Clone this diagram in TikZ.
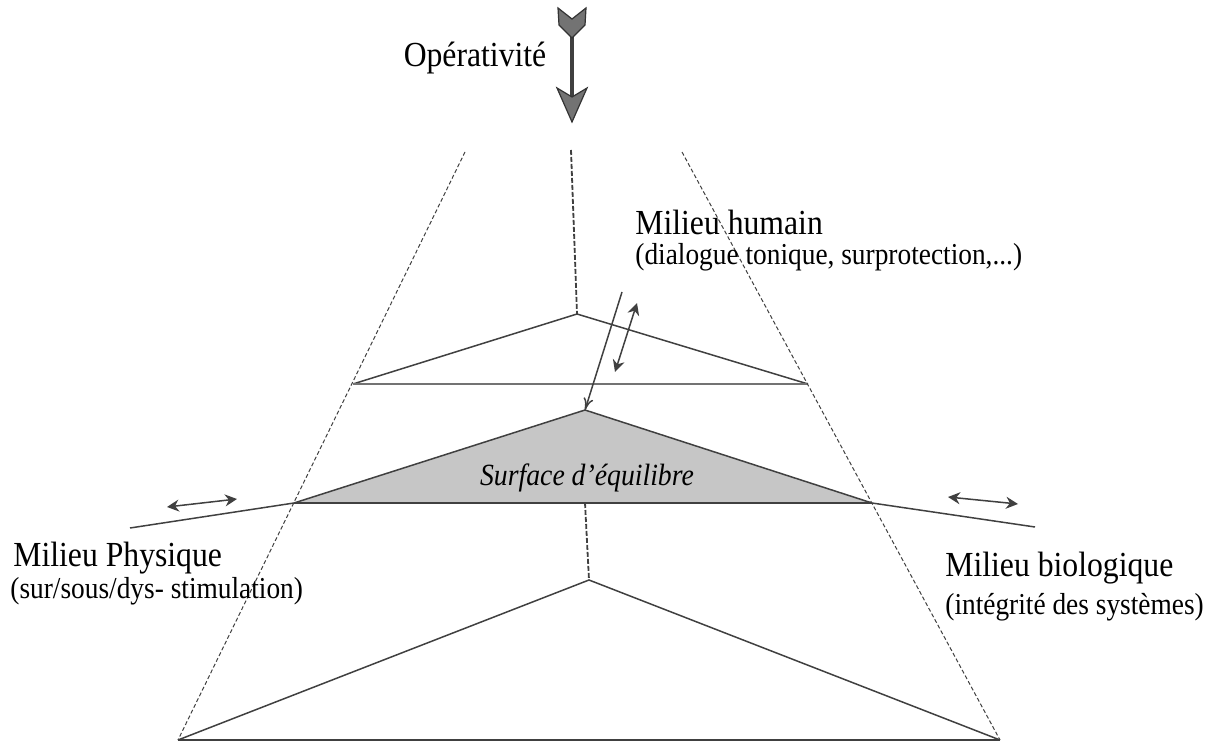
\documentclass[tikz,border=0pt]{standalone}
\usepackage{fontspec}
\setmainfont{Liberation Serif}[FakeStretch=0.9]
\usetikzlibrary{arrows.meta}
\begin{document}
\begin{tikzpicture}[x=0.5pt,y=-0.5pt,
  edge/.style={draw=black!75, line width=0.5pt, dash pattern=on 2pt off 1.2pt},
  axisline/.style={draw=black!75, line width=0.9pt, dash pattern=on 2.5pt off 1pt},
  layer/.style={draw=black!75, line width=0.75pt},
  lbl/.style={font=\fontsize{17.6}{20}\selectfont, anchor=west, inner sep=0pt},
  sublbl/.style={font=\fontsize{15.2}{18}\selectfont, anchor=west, inner sep=0pt},
  dbl/.style={draw=black!75, line width=0.75pt, {Stealth[length=6pt,width=6pt]}-{Stealth[length=6pt,width=6pt]}},
]
\useasboundingbox (0,0) rectangle (1209,743);
% pyramid points
\coordinate (TL) at (465,152); \coordinate (TR) at (682,152);
\coordinate (BL) at (178,740); \coordinate (BR) at (1000,740);
\coordinate (A1) at (577,314); \coordinate (L1) at (353,384); \coordinate (R1) at (808,384);
\coordinate (A2) at (585,410); \coordinate (L2) at (294,503); \coordinate (R2) at (872,503);
\coordinate (A3) at (589,580);
\coordinate (Ctop) at (571,150); \coordinate (C2) at (585,503);
\coordinate (PL) at (130,528); \coordinate (PR) at (1035,527);
% shaded surface
\fill[gray!45] (L2) -- (A2) -- (R2) -- cycle;
\draw[layer] (L2) -- (A2) -- (R2);
\draw[layer, line width=1pt] (L2) -- (R2);
\draw[layer] (PL) -- (L2);
\draw[layer] (R2) -- (PR);
% top layer
\draw[layer] (L1) -- (A1) -- (R1);
\draw[layer, draw=black!55, line width=1pt] (L1) -- (R1);
% bottom layer
\draw[layer] (BL) -- (A3) -- (BR);
\draw[layer, line width=1pt] (BL) -- (BR);
% pyramid edges and axis
\draw[edge] (TL) -- (BL);
\draw[edge] (TR) -- (BR);
\draw[axisline] (Ctop) -- (A1);
\draw[axisline] (C2) -- (A3);
% human milieu arrows
\coordinate (HS) at (622,292);
\draw[layer, -{To[length=6pt,width=5pt]}] (HS) -- (A2);
\coordinate (D1) at (637,303); \coordinate (D2) at (615,372);
\draw[dbl] (D2) -- (D1);
% side arrows
\coordinate (E1) at (167,507); \coordinate (E2) at (237,499);
\draw[dbl] (E1) -- (E2);
\coordinate (F1) at (948,497); \coordinate (F2) at (1018,504);
\draw[dbl] (F1) -- (F2);
% Operativite arrow
\coordinate (OT) at (572,36); \coordinate (OH) at (572,96);
\draw[line width=1.6pt, black!75] (OT) -- (OH);
\filldraw[fill=black!55, draw=black!80, line width=0.6pt]
  (558,8) -- (572,19) -- (586,8) -- (585,25) -- (572,38) -- (559,25) -- cycle;
\filldraw[fill=black!55, draw=black!80, line width=0.6pt]
  (557,88) -- (572,97) -- (587,88) -- (572,122) -- cycle;
% labels
\node[lbl, anchor=center] (op) at (475,58) {Opérativité};
\node[lbl] (mh) at (635,222) {Milieu humain};
\node[sublbl] (mhs) at (635,257) {(dialogue tonique, surprotection,...)};
\node[lbl] (mp) at (13,558) {Milieu Physique};
\node[sublbl] (mps) at (10,591) {(sur/sous/dys- stimulation)};
\node[lbl] (mb) at (945,568) {Milieu biologique};
\node[sublbl] (mbs) at (945,607) {(intégrité des systèmes)};
\node[font=\itshape\fontsize{15.4}{18}\selectfont, inner sep=0pt] (se) at (587,478) {Surface d'équilibre};
\end{tikzpicture}
\end{document}
